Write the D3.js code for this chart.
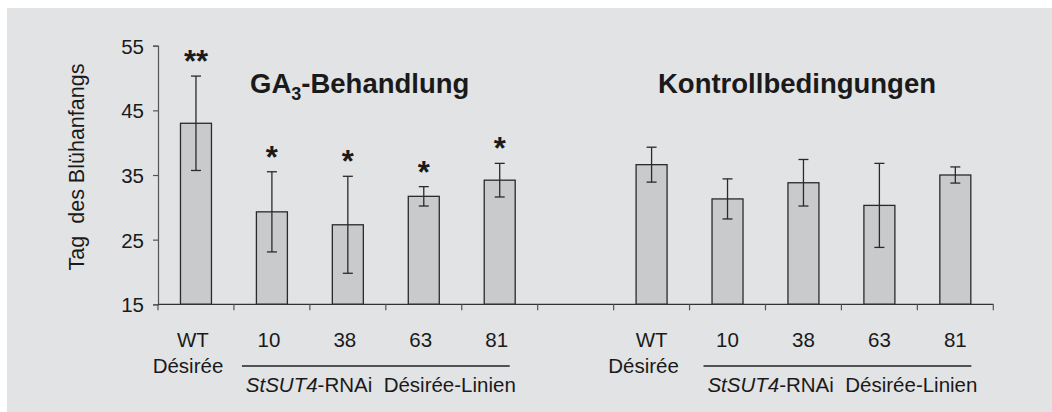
<!DOCTYPE html>
<html>
<head>
<meta charset="utf-8">
<script src="https://cdn.jsdelivr.net/npm/d3@7"></script>
<style>
  html, body { margin: 0; padding: 0; background: #ffffff; }
  svg { display: block; font-family: Arial, "Liberation Sans", Helvetica, sans-serif; }
</style>
</head>
<body>
<svg id="chart" width="1052" height="412"></svg>
<script>
// Flowering onset (day) for WT and StSUT4-RNAi lines, GA3-treated vs. control
const lines = ["WT", "10", "38", "63", "81"];
const gaMean = [43.0, 29.3, 27.3, 31.7, 34.2];
const gaErr = [7.3, 6.2, 7.5, 1.5, 2.6];
const gaSig = ["**", "*", "*", "*", "*"];
const ctrlMean = [36.6, 31.3, 33.8, 30.3, 35.0];
const ctrlErr = [2.7, 3.1, 3.6, 6.5, 1.25];
const yTicks = [15, 25, 35, 45, 55];
const groupTitles = ["GA", "Kontrollbedingungen"];

const svg = d3.select("#chart");

// panel background
svg.append("rect")
  .attr("x", 7).attr("y", 8)
  .attr("width", 1045).attr("height", 404)
  .attr("fill", "#e2e3e5");

// slots: 5 GA bars, one empty gap, 5 control bars
const slots = lines.map(d => "ga-" + d).concat(["gap"], lines.map(d => "ct-" + d));
const pad = 0.592;
const x = d3.scaleBand().domain(slots).range([158, 993.3]).paddingInner(pad).paddingOuter(pad / 2);
const y = d3.scaleLinear().domain([15, 55]).range([304.3, 45.7]);
const step = x.step();

const bars = lines.map((d, i) => ({ key: "ga-" + d, label: d, mean: gaMean[i], err: gaErr[i], sig: gaSig[i] }))
  .concat(lines.map((d, i) => ({ key: "ct-" + d, label: d, mean: ctrlMean[i], err: ctrlErr[i], sig: "" })));

const ink = "#1a1a1a";

// y axis
const yAxis = d3.axisLeft(y).tickValues(yTicks).tickSize(5).tickPadding(9).tickFormat(d3.format("d"));
const gy = svg.append("g").attr("transform", "translate(158,0)").call(yAxis);
gy.select(".domain").attr("stroke", "#555").attr("stroke-width", 1.2);
gy.selectAll(".tick line").attr("stroke", "#555").attr("stroke-width", 1.2);
gy.selectAll(".tick text")
  .attr("fill", ink).attr("font-size", "20.5px")
  .attr("font-family", "Arial, 'Liberation Sans', sans-serif")
  .attr("dy", "0.36em");

// y axis title
svg.append("text")
  .attr("transform", "translate(84,167) rotate(-90)")
  .attr("text-anchor", "middle")
  .attr("fill", ink)
  .attr("font-size", "21.5px")
  .attr("xml:space", "preserve")
  .text("Tag  des Blühanfangs");

// bars
svg.append("g").selectAll("rect")
  .data(bars).join("rect")
  .attr("x", d => x(d.key))
  .attr("width", x.bandwidth())
  .attr("y", d => y(d.mean))
  .attr("height", d => y(15) - y(d.mean))
  .attr("fill", "#c9cacc")
  .attr("stroke", "#2a2a2a")
  .attr("stroke-width", 1.3);

// error bars
const cap = 5;
const eg = svg.append("g").attr("stroke", "#2a2a2a").attr("stroke-width", 1.3);
bars.forEach(d => {
  const cx = x(d.key) + x.bandwidth() / 2;
  const top = y(d.mean + d.err), bot = y(d.mean - d.err);
  eg.append("line").attr("x1", cx).attr("x2", cx).attr("y1", top).attr("y2", bot);
  eg.append("line").attr("x1", cx - cap).attr("x2", cx + cap).attr("y1", top).attr("y2", top);
  eg.append("line").attr("x1", cx - cap).attr("x2", cx + cap).attr("y1", bot).attr("y2", bot);
});

// significance marks
svg.append("g").selectAll("text")
  .data(bars.filter(d => d.sig))
  .join("text")
  .attr("x", d => x(d.key) + x.bandwidth() / 2)
  .attr("y", d => y(d.mean + d.err) - 22 + 18)
  .attr("text-anchor", "middle")
  .attr("fill", ink)
  .attr("font-size", "31px")
  .attr("font-weight", "bold")
  .text(d => d.sig);

// x axis with ticks on slot boundaries
svg.append("line")
  .attr("x1", 158).attr("x2", 993.3)
  .attr("y1", y(15)).attr("y2", y(15))
  .attr("stroke", "#333").attr("stroke-width", 1.3);
const boundaries = slots.map(s => x(s) - step * pad / 2).concat([x(slots[slots.length - 1]) + x.bandwidth() + step * pad / 2]);
svg.append("g").selectAll("line")
  .data(boundaries).join("line")
  .attr("x1", d => d).attr("x2", d => d)
  .attr("y1", y(15)).attr("y2", y(15) + 6)
  .attr("stroke", "#555").attr("stroke-width", 1.2);

// category labels
svg.append("g").selectAll("text")
  .data(bars).join("text")
  .attr("x", d => x(d.key) + x.bandwidth() / 2 - (d.key.startsWith("ga") ? 3 : 0))
  .attr("y", 347)
  .attr("text-anchor", "middle")
  .attr("fill", ink)
  .attr("font-size", "20.5px")
  .text(d => d.label);

// group annotations below the axis
["ga", "ct"].forEach((g, gi) => {
  const wtX = x(g + "-WT") + x.bandwidth() / 2;
  svg.append("text")
    .attr("x", wtX - 8).attr("y", 373)
    .attr("text-anchor", "middle")
    .attr("fill", ink).attr("font-size", "20.5px")
    .text("Désirée");
  const shift = gi === 0 ? -4 : 2;
  const x0 = x(g + "-10") + x.bandwidth() / 2 - 26 + shift;
  const x1 = x(g + "-81") + x.bandwidth() / 2 + 14 + shift;
  svg.append("line")
    .attr("x1", x0).attr("x2", x1).attr("y1", 366).attr("y2", 366)
    .attr("stroke", "#222").attr("stroke-width", 1.3);
  const t = svg.append("text")
    .attr("x", (x0 + x1) / 2 + 5).attr("y", 392)
    .attr("text-anchor", "middle")
    .attr("fill", ink).attr("font-size", "20.5px")
    .attr("xml:space", "preserve");
  t.append("tspan").attr("font-style", "italic").text("StSUT4");
  t.append("tspan").text("-RNAi  Désirée-Linien");
});

// group titles
const t1 = svg.append("text")
  .attr("x", 250).attr("y", 92.5)
  .attr("fill", ink).attr("font-size", "27.5px").attr("font-weight", "bold");
t1.append("tspan").text(groupTitles[0]);
t1.append("tspan").attr("font-size", "18px").attr("dy", 7).text("3");
t1.append("tspan").attr("dy", -7).text("-Behandlung");

svg.append("text")
  .attr("x", 658).attr("y", 92.5)
  .attr("fill", ink).attr("font-size", "27.5px").attr("font-weight", "bold")
  .text(groupTitles[1]);
</script>
</body>
</html>
